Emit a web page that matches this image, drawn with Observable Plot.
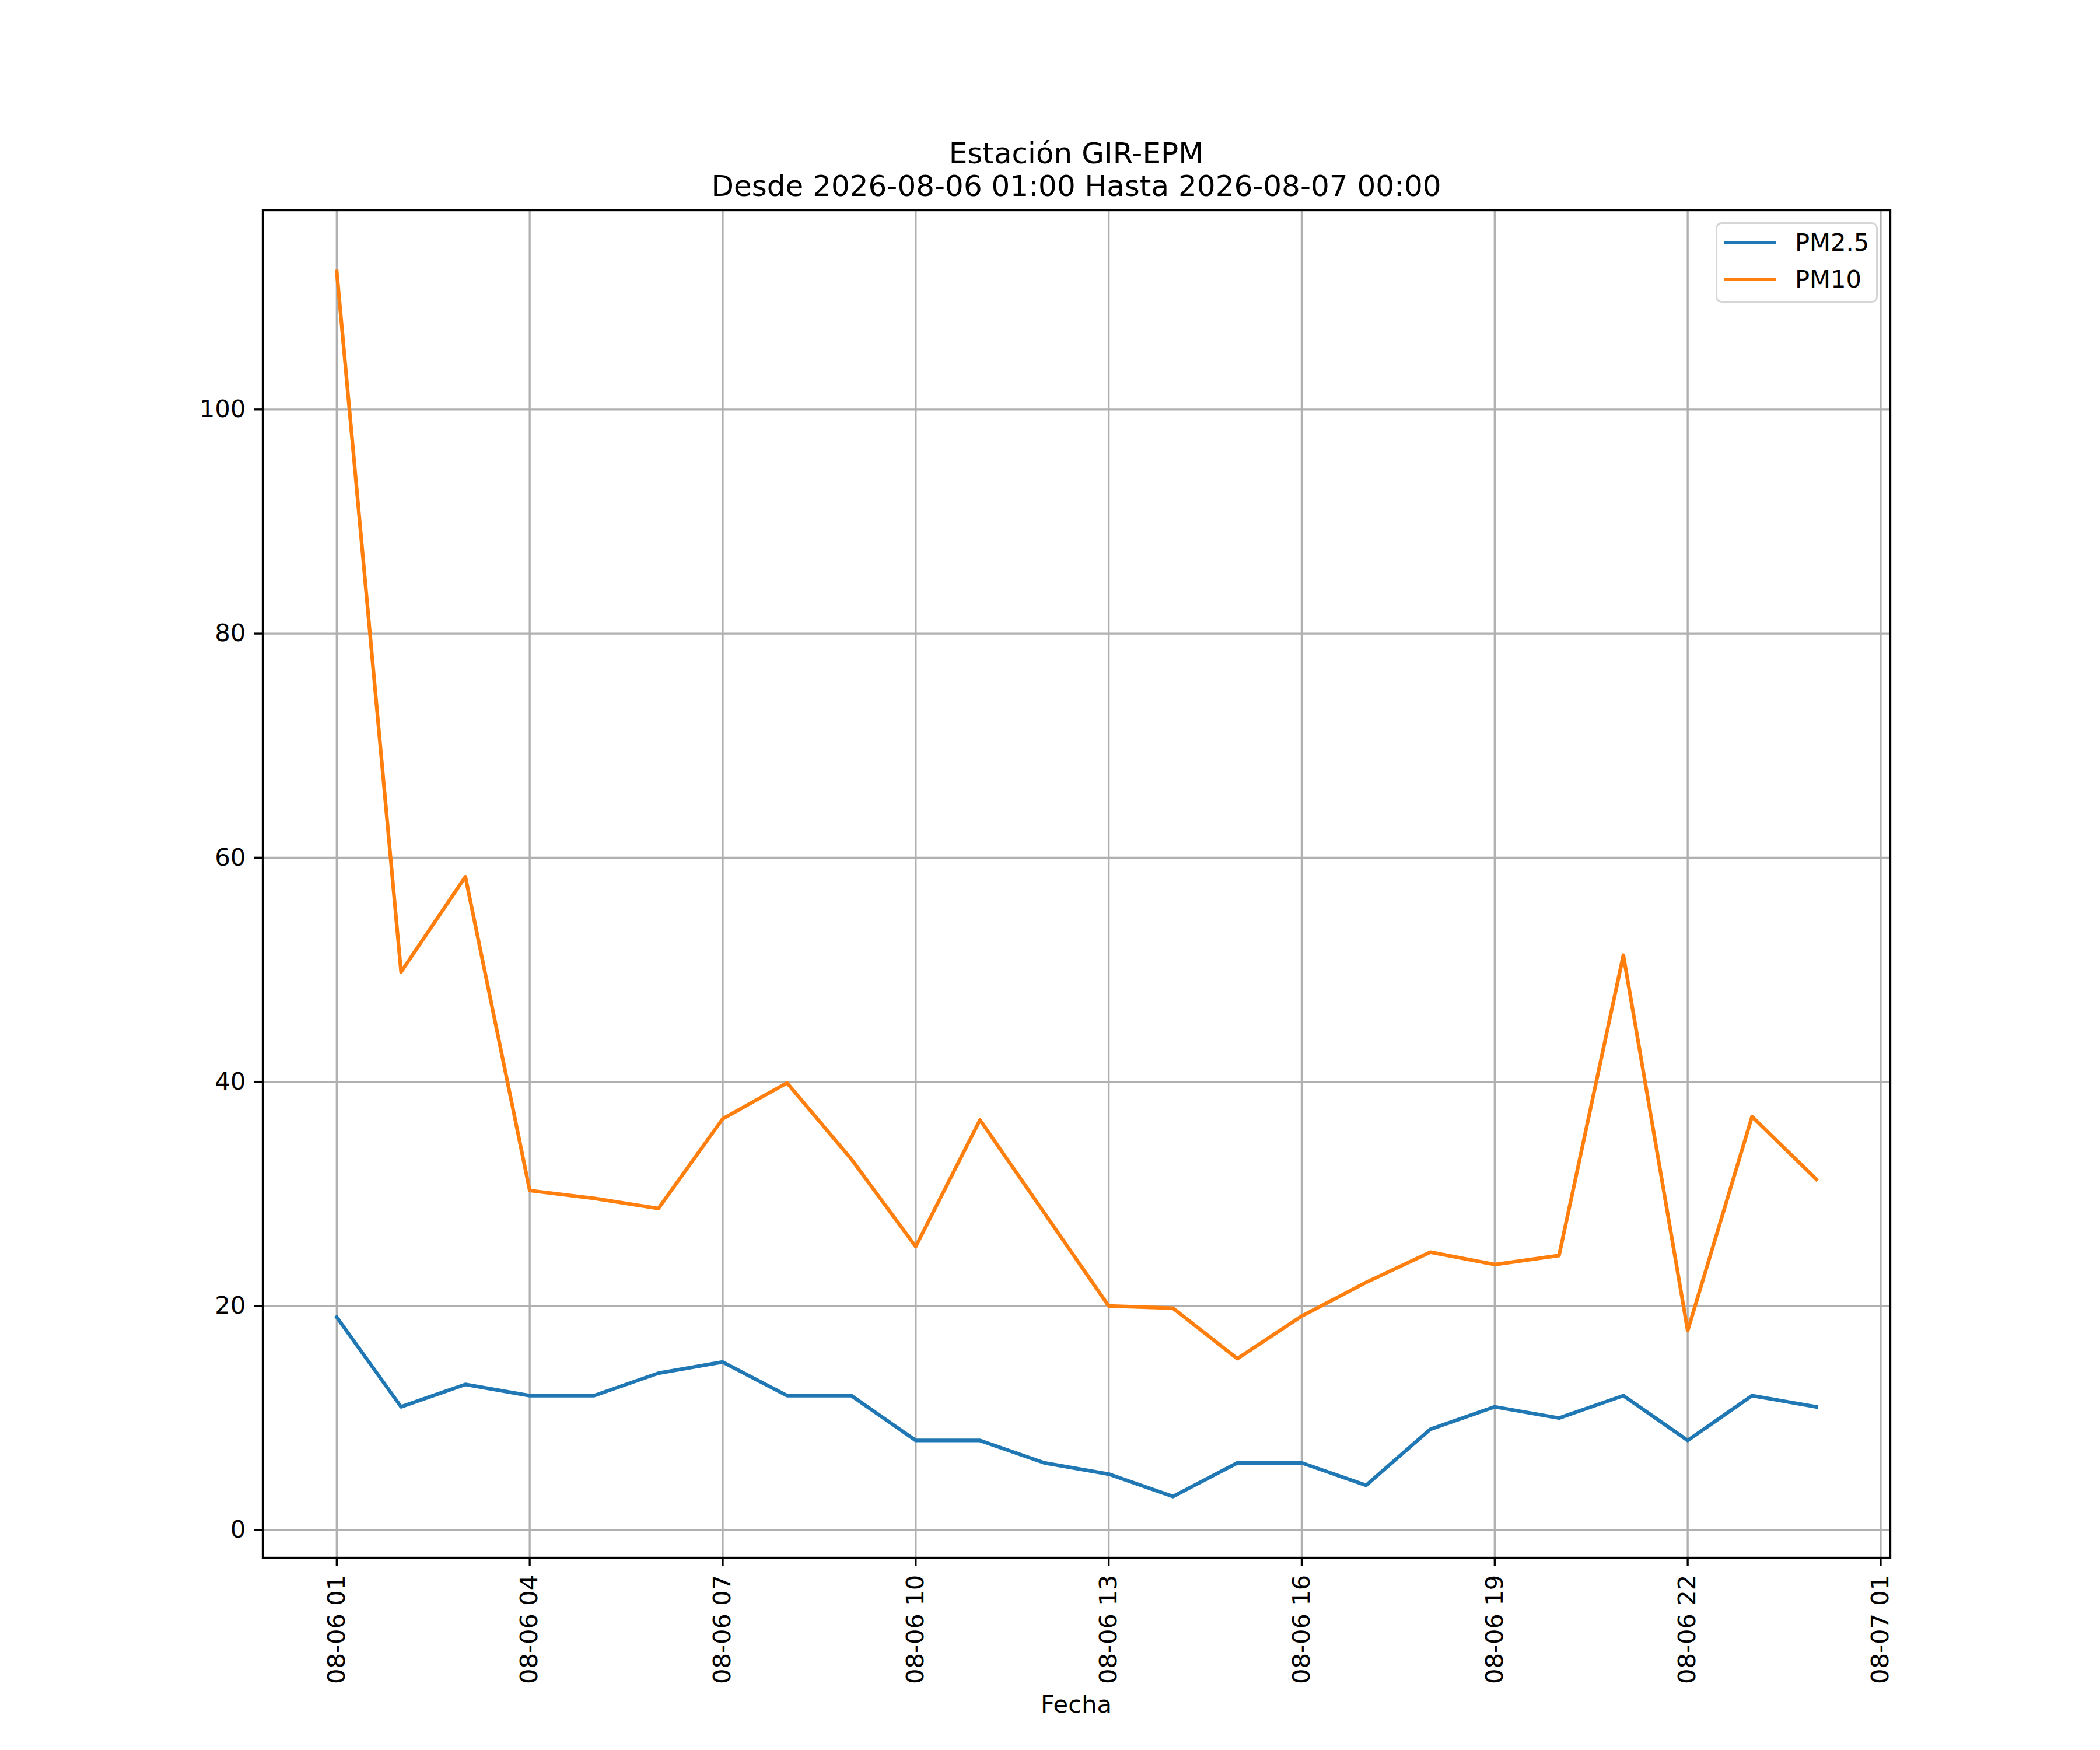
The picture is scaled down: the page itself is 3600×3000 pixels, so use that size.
<!DOCTYPE html>
<html>
<head>
<meta charset="utf-8">
<script src="https://cdn.jsdelivr.net/npm/d3@7"></script>
<script src="https://cdn.jsdelivr.net/npm/@observablehq/plot@0.6"></script>
<style>
  html, body { margin: 0; padding: 0; background: white; }
  #wrap { position: relative; width: 3600px; height: 3000px; font-family: "DejaVu Sans", sans-serif; color: black; }
  #wrap svg { position: absolute; left: 0; top: 0; }
  .t { position: absolute; white-space: nowrap; line-height: 1; }
  .title { left: 0; width: 3690px; text-align: center; font-size: 50px; }
  .xlabel { left: 0; width: 3690px; text-align: center; font-size: 41.67px; }
  .legbox { position: absolute; left: 2941px; top: 381px; width: 278px; height: 138px; box-sizing: border-box;
            border: 3.33px solid #d6d6d6; border-radius: 10px; background: rgba(255,255,255,0.8); }
  .swatch { position: absolute; left: 2956px; width: 89px; height: 6.25px; }
  .legtext { font-size: 41.67px; left: 3077px; }
</style>
</head>
<body>
<div id="wrap"></div>
<script>
// ---- data ----
const hours = [
  "2026-08-06T01:00Z","2026-08-06T02:00Z","2026-08-06T03:00Z","2026-08-06T04:00Z",
  "2026-08-06T05:00Z","2026-08-06T06:00Z","2026-08-06T07:00Z","2026-08-06T08:00Z",
  "2026-08-06T09:00Z","2026-08-06T10:00Z","2026-08-06T11:00Z","2026-08-06T12:00Z",
  "2026-08-06T13:00Z","2026-08-06T14:00Z","2026-08-06T15:00Z","2026-08-06T16:00Z",
  "2026-08-06T17:00Z","2026-08-06T18:00Z","2026-08-06T19:00Z","2026-08-06T20:00Z",
  "2026-08-06T21:00Z","2026-08-06T22:00Z","2026-08-06T23:00Z","2026-08-07T00:00Z"
];
const pm25 = [19, 11, 13, 12, 12, 14, 15, 12, 12, 8, 8, 6, 5, 3, 6, 6, 4, 9, 11, 10, 12, 8, 12, 11];
const pm10 = [112.3, 49.8, 58.3, 30.3, 29.6, 28.7, 36.7, 39.9, 33.1, 25.3, 36.6, 28.3, 20.0, 19.8, 15.3, 19.1, 22.1, 24.8, 23.7, 24.5, 51.3, 17.8, 36.9, 31.3];
const seriesNames = ["PM2.5", "PM10"];
const seriesColors = ["#1f77b4", "#ff7f0e"];
const xTickDates = [
  "2026-08-06T01:00Z","2026-08-06T04:00Z","2026-08-06T07:00Z","2026-08-06T10:00Z",
  "2026-08-06T13:00Z","2026-08-06T16:00Z","2026-08-06T19:00Z","2026-08-06T22:00Z",
  "2026-08-07T01:00Z"
];
const yTicks = [0, 20, 40, 60, 80, 100];
const titleLines = ["Estación GIR-EPM", "Desde 2026-08-06 01:00 Hasta 2026-08-07 00:00"];
const xLabel = "Fecha";

// ---- build ----
const dates = hours.map(d => new Date(d));
const xTicks = xTickDates.map(d => new Date(d));
const rows25 = dates.map((d, i) => ({date: d, value: pm25[i]}));
const rows10 = dates.map((d, i) => ({date: d, value: pm10[i]}));

const all = pm25.concat(pm10);
const yMin = d3.min(all), yMax = d3.max(all);
const yPad = 0.05 * (yMax - yMin);
const t0 = +dates[0], t1 = +dates[dates.length - 1];
const xPad = 0.05 * (t1 - t0);

const LW = 6.25, GW = 3.33;
const gridStyle = {stroke: "#b0b0b0", strokeOpacity: 1, strokeWidth: GW};

const chart = Plot.plot({
  width: 3600,
  height: 3000,
  marginLeft: 450,
  marginRight: 360,
  marginTop: 360,
  marginBottom: 330,
  style: {fontFamily: "DejaVu Sans", fontSize: "41.67px", background: "transparent", color: "black", overflow: "visible"},
  x: {type: "utc", domain: [new Date(t0 - xPad), new Date(t1 + xPad)]},
  y: {domain: [yMin - yPad, yMax + yPad]},
  marks: [
    Plot.gridX(xTicks, gridStyle),
    Plot.gridY(yTicks, gridStyle),
    Plot.line(rows25, {x: "date", y: "value", stroke: seriesColors[0], strokeWidth: LW, strokeLinejoin: "round", strokeLinecap: "square"}),
    Plot.line(rows10, {x: "date", y: "value", stroke: seriesColors[1], strokeWidth: LW, strokeLinejoin: "round", strokeLinecap: "square"}),
    Plot.frame({stroke: "black", strokeWidth: GW}),
    Plot.axisX(xTicks, {
      tickSize: 14.6, tickPadding: 14.6, tickRotate: -90,
      tickFormat: d3.utcFormat("%m-%d %H"), label: null,
      strokeWidth: GW, fontSize: 41.67, fill: "black"
    }),
    Plot.axisY(yTicks, {
      tickSize: 14.6, tickPadding: 14.6, label: null,
      strokeWidth: GW, fontSize: 41.67, fill: "black"
    })
  ]
});

const wrap = document.getElementById("wrap");
const bg = document.createElement("div");
bg.style.cssText = "position:absolute;left:0;top:0;width:3600px;height:3000px;background:white;";
wrap.appendChild(bg);
wrap.appendChild(chart);

function addText(cls, text, top, extra) {
  const el = document.createElement("div");
  el.className = "t " + cls;
  el.textContent = text;
  el.style.top = top + "px";
  if (extra) Object.assign(el.style, extra);
  wrap.appendChild(el);
  return el;
}
// title (baselines ~280 and ~336)
addText("title", titleLines[0], 280 - 0.846 * 50);
addText("title", titleLines[1], 336 - 0.846 * 50);
// x label
addText("xlabel", xLabel, 2936 - 0.846 * 41.67);

// legend
const box = document.createElement("div");
box.className = "legbox";
wrap.appendChild(box);
const swatchY = [416, 479];
const textBase = [430, 493];
seriesNames.forEach((name, i) => {
  const s = document.createElement("div");
  s.className = "swatch";
  s.style.top = (swatchY[i] - LW / 2) + "px";
  s.style.background = seriesColors[i];
  wrap.appendChild(s);
  addText("legtext", name, textBase[i] - 0.846 * 41.67);
});
</script>
</body>
</html>
